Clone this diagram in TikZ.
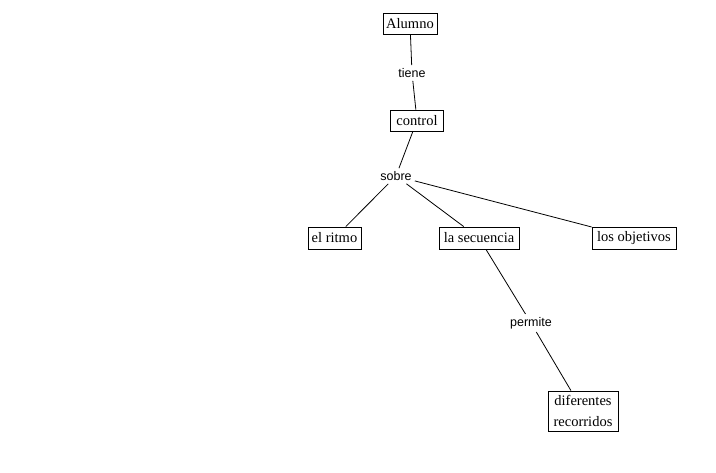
\documentclass[tikz,border=0pt]{standalone}
\usepackage{fontspec}
\setmainfont{Liberation Serif}
\newfontfamily\lsans{Liberation Sans}
\begin{document}
\begin{tikzpicture}[x=1pt,y=-1pt,
  concept/.style={draw,line width=0.8pt,inner sep=0pt,font=\fontsize{14.5}{21}\selectfont,align=center},
  linklabel/.style={inner sep=3pt,font=\lsans\fontsize{12.5}{14}\selectfont},
  conn/.style={line width=0.8pt}]
\useasboundingbox (0,0) rectangle (716,472);
\node[concept,minimum width=54pt,minimum height=21pt] (alumno) at (410,23.5) {Alumno};
\node[linklabel] (tiene) at (412,73) {tiene};
\node[concept,minimum width=53pt,minimum height=21pt] (control) at (417,120.5) {control};
\node[linklabel] (sobre) at (396,176) {sobre};
\node[concept,minimum width=53pt,minimum height=22pt] (ritmo) at (334.5,238) {el ritmo};
\node[concept,minimum width=80pt,minimum height=22pt] (secuencia) at (479,238) {la secuencia};
\node[concept,minimum width=84pt,minimum height=22pt] (objetivos) at (634,238) {los objetivos};
\node[linklabel] (permite) at (531,323) {permite};
\node[concept,minimum width=70pt,minimum height=40pt] (recorridos) at (583,411) {diferentes\\recorridos};
\draw[conn] (alumno) -- (tiene);
\draw[conn] (tiene) -- (control);
\draw[conn] (control) -- (sobre);
\draw[conn] (sobre) -- (ritmo);
\draw[conn] (sobre) -- (secuencia);
\draw[conn] (sobre) -- (objetivos);
\draw[conn] (secuencia) -- (permite);
\draw[conn] (permite) -- (recorridos);
\end{tikzpicture}
\end{document}
